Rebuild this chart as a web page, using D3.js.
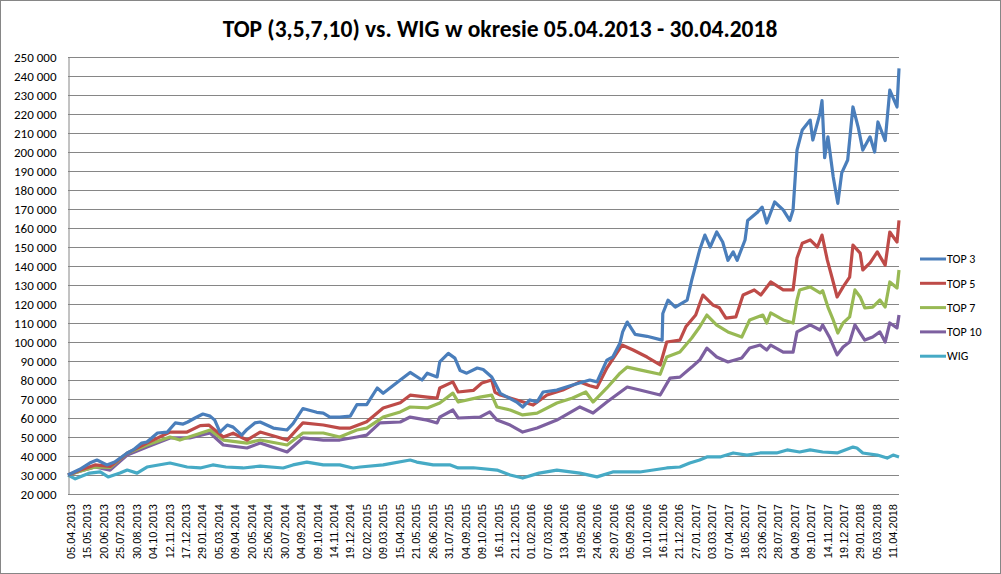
<!DOCTYPE html>
<html>
<head>
<meta charset="utf-8">
<script src="https://cdn.jsdelivr.net/npm/d3@7"></script>
<style>
  body { margin: 0; background: #fff; }
  svg { display: block; }
</style>
</head>
<body>
<div id="chart"></div>
<script>
// chart TOP (3,5,7,10) vs WIG
const width = 1001;
const height = 574;
const totalDays = 1264;

const dateLabels = [
  "05.04.2013","15.05.2013","20.06.2013","25.07.2013","30.08.2013","04.10.2013","12.11.2013","17.12.2013",
  "29.01.2014","05.03.2014","09.04.2014","20.05.2014","25.06.2014","30.07.2014","04.09.2014","09.10.2014","14.11.2014","19.12.2014",
  "02.02.2015","09.03.2015","15.04.2015","21.05.2015","26.06.2015","31.07.2015","04.09.2015","09.10.2015","16.11.2015","21.12.2015",
  "01.02.2016","07.03.2016","13.04.2016","19.05.2016","24.06.2016","29.07.2016","05.09.2016","10.10.2016","16.11.2016","21.12.2016",
  "27.01.2017","03.03.2017","07.04.2017","18.05.2017","23.06.2017","28.07.2017","04.09.2017","09.10.2017","14.11.2017","19.12.2017",
  "29.01.2018","05.03.2018","11.04.2018"
];
const labelStep = 25; // trading days between labels

const yTicks = d3.range(20000, 250001, 10000);

// [trading day, value]
const top3 = [
  [0,30000],[18,33000],[33,36300],[44,37900],[59,35300],[71,36800],[90,41600],[99,43200],[112,46800],
  [120,47400],[136,52100],[151,52600],[163,57400],[175,56800],[182,57900],[193,60000],[205,62100],
  [216,61000],[223,58900],[231,52600],[242,56300],[251,55200],[264,51000],[272,54000],[284,57400],
  [292,57900],[312,54700],[333,53700],[342,57000],[357,65000],[378,63000],[388,62600],[398,60500],
  [413,60500],[429,61000],[439,67000],[454,67000],[470,75800],[479,73000],[505,80000],[520,84000],
  [538,80000],[546,83600],[561,81600],[565,89500],[578,94000],[588,91500],[596,85000],[606,83600],
  [622,86300],[631,85500],[644,81600],[649,78400],[657,73000],[682,68400],[691,65800],[702,69500],
  [713,68500],[722,73700],[743,74700],[767,77400],[793,80000],[804,79000],[819,90500],[828,92100],
  [839,99500],[843,105300],[850,110500],[862,104000],[880,103000],[903,101000],[904,115000],
  [912,122000],[923,118400],[941,122000],[948,132600],[960,148400],[968,156300],[976,150000],[986,157900],
  [995,152600],[1003,143000],[1011,147400],[1017,143000],[1029,153700],[1033,164000],[1047,168000],
  [1055,171000],[1062,162600],[1074,173700],[1087,169500],[1097,164000],[1102,169500],[1108,201000],
  [1116,211600],[1128,216800],[1132,206300],[1143,220500],[1146,227000],[1150,197000],[1155,208000],
  [1163,187000],[1170,173000],[1176,189000],[1185,195800],[1193,223700],[1201,213000],[1208,201000],
  [1219,208000],[1226,200000],[1231,215800],[1242,206000],[1249,232600],[1260,223700],[1263,244000]
];
const top5 = [
  [0,30000],[18,32500],[41,35300],[64,34500],[90,41500],[120,46800],[155,52600],[181,52600],[201,56000],
  [214,56300],[236,50000],[251,52000],[272,48400],[292,52600],[318,50000],[333,48400],[357,57400],
  [388,56300],[413,54700],[429,54700],[454,58000],[479,65300],[505,68000],[520,72000],[546,71000],
  [561,70500],[565,75800],[585,79000],[593,73700],[616,74500],[629,78400],[644,80000],[649,73500],
  [657,72100],[682,69500],[707,66800],[728,72100],[752,74700],[778,79000],[793,77000],[804,76000],
  [819,86300],[834,94200],[842,98400],[859,95800],[880,92100],[900,87900],[910,100000],[930,101000],
  [939,108000],[954,114200],[962,122000],[965,124700],[980,119500],[990,118000],[1000,112600],
  [1015,113200],[1026,124700],[1043,127400],[1053,124700],[1068,131600],[1087,127400],[1102,127400],
  [1108,144200],[1116,152000],[1128,153700],[1139,150000],[1146,156300],[1154,143200],[1161,134200],
  [1169,123700],[1178,129000],[1188,134200],[1193,151000],[1204,146800],[1208,137900],[1219,141600],
  [1230,147400],[1242,140500],[1249,157900],[1260,152600],[1263,164000]
];
const top7 = [
  [0,30000],[18,32000],[41,34200],[64,34000],[90,41500],[120,45800],[155,50000],[170,48400],[216,53700],
  [236,48400],[272,46800],[292,48400],[333,45800],[357,52100],[388,52100],[413,50000],[439,53700],
  [454,54700],[479,60500],[505,63200],[520,65800],[546,65300],[565,67900],[585,73100],[593,68400],
  [626,71000],[644,72000],[652,65800],[672,64200],[691,61600],[713,62600],[743,67900],[767,70500],
  [787,73700],[798,68400],[819,75800],[839,83600],[850,86800],[869,85300],[900,83000],[910,92100],
  [930,94700],[948,102100],[960,107900],[971,114200],[986,108900],[1003,105300],
  [1024,102600],[1036,111600],[1056,114200],[1062,110000],[1068,115300],[1087,111600],[1102,110000],
  [1108,122100],[1112,127400],[1128,129000],[1143,125800],[1147,127000],[1155,118400],[1163,111600],
  [1170,104700],[1178,110000],[1188,113200],[1196,127400],[1204,123700],[1211,117900],[1223,118400],
  [1234,122100],[1242,118400],[1249,131600],[1260,128400],[1263,137900]
];
const top10 = [
  [0,30000],[18,32000],[41,34200],[64,32600],[90,40500],[120,44700],[155,49500],[185,49500],[216,52100],
  [236,45800],[272,44200],[292,46800],[333,42100],[357,49500],[388,48400],[413,48400],[439,50000],
  [454,51000],[474,57400],[505,57900],[520,60500],[546,58900],[561,57400],[565,60500],[585,64200],
  [593,60000],[626,60500],[641,63200],[652,58900],[672,56300],[691,52600],[713,54700],[743,58900],
  [778,65800],[798,62600],[819,68400],[850,76300],[869,74700],[900,72100],[915,81000],[930,81500],
  [948,86800],[960,90500],[971,96800],[986,92100],
  [1003,89500],[1024,91600],[1036,96800],[1052,98400],[1062,95800],[1068,98400],[1087,94700],
  [1102,94700],[1108,105300],[1128,109000],[1143,106300],[1147,109000],[1158,102100],[1169,93200],
  [1178,97400],[1188,100000],[1196,109000],[1204,104700],[1211,101000],[1223,102600],[1234,105300],
  [1242,100000],[1249,110000],[1260,107400],[1263,114200]
];
const wig = [
  [0,30000],[11,28000],[33,31000],[49,31600],[61,29000],[79,31000],[90,32600],[105,31000],[120,34200],
  [155,36300],[181,34200],[201,33700],[220,35300],[240,34200],[266,33700],[292,34700],[327,33700],
  [342,35300],[363,36800],[388,35300],[413,35300],[433,33700],[444,34200],[479,35300],[520,37900],
  [530,36800],[555,35300],[565,35300],[581,35300],[593,33700],[616,33800],[652,32600],[672,30000],
  [691,28400],[716,31000],[743,32600],[778,31000],[804,29000],[828,31600],[869,31600],[910,33700],
  [930,34200],[945,36300],[960,37900],[971,39500],[991,39500],[1011,41600],[1032,40500],[1052,41600],
  [1077,41600],[1093,43200],[1112,42100],[1128,43200],[1147,42100],[1169,41600],[1193,44700],
  [1199,44200],[1208,41600],[1230,40500],[1245,38900],[1254,40500],[1263,39500]
];

const seriesNames = ["TOP 3", "TOP 5", "TOP 7", "TOP 10", "WIG"];
const seriesData = [top3, top5, top7, top10, wig];
const seriesColors = ["#4a7ebb", "#be4b48", "#98b954", "#7d60a0", "#46aac5"];

const plot = { left: 68, right: 899, top: 57, bottom: 494 };

const svg = d3.select("#chart")
    .append("svg")
    .attr("width", width)
    .attr("height", height);

svg.append("rect")
    .attr("x", 0.5).attr("y", 0.5)
    .attr("width", width - 1).attr("height", height - 1)
    .attr("fill", "#fff")
    .attr("stroke", "#868686");

const x = d3.scaleLinear().domain([0, totalDays - 1]).range([plot.left, plot.right]);
const y = d3.scaleLinear().domain([20000, 250000]).range([plot.bottom, plot.top]);

const fmt = v => d3.format(",")(v).replace(/,/g, " ");

// gridlines
svg.append("g")
    .selectAll("line")
    .data(yTicks)
    .enter()
    .append("line")
    .attr("x1", plot.left)
    .attr("x2", plot.right)
    .attr("y1", d => Math.round(y(d)) + 0.5)
    .attr("y2", d => Math.round(y(d)) + 0.5)
    .attr("stroke", "#868686")
    .attr("stroke-width", 1);

// y axis
const yAxis = svg.append("g")
    .attr("transform", `translate(${plot.left + 0.5},0)`)
    .call(d3.axisLeft(y).tickValues(yTicks).tickFormat(fmt).tickSize(0).tickPadding(12));
yAxis.select(".domain").attr("stroke", "#868686");
yAxis.selectAll("text")
    .attr("font-family", "Carlito, Lato, 'Open Sans', sans-serif")
    .attr("font-size", 13)
    .attr("fill", "#000");

// x axis line
svg.append("line")
    .attr("x1", plot.left).attr("x2", plot.right)
    .attr("y1", plot.bottom + 0.5).attr("y2", plot.bottom + 0.5)
    .attr("stroke", "#868686");

// x labels
svg.append("g")
    .selectAll("text")
    .data(dateLabels)
    .enter()
    .append("text")
    .attr("transform", (d, i) => `translate(${x(i * labelStep) + 3},${plot.bottom + 10}) rotate(-90)`)
    .attr("text-anchor", "end")
    .attr("dy", "0.35em")
    .attr("font-family", "'Liberation Sans', Arial, sans-serif")
    .attr("font-size", 11)
    .attr("fill", "#000")
    .text(d => d);

// lines
const line = d3.line()
    .x(d => x(d[0]))
    .y(d => y(d[1]));

svg.append("g")
    .selectAll("path")
    .data(seriesData.slice().reverse())
    .enter()
    .append("path")
    .attr("d", line)
    .attr("fill", "none")
    .attr("stroke", (d, i) => seriesColors[seriesData.length - 1 - i])
    .attr("stroke-width", 3.2)
    .attr("stroke-linejoin", "round");

// title
svg.append("text")
    .attr("x", 500)
    .attr("y", 37)
    .attr("text-anchor", "middle")
    .attr("font-family", "Carlito, Lato, 'Open Sans', sans-serif")
    .attr("font-weight", "bold")
    .attr("font-size", 23.5)
    .attr("fill", "#000")
    .text("TOP (3,5,7,10) vs. WIG w okresie 05.04.2013  - 30.04.2018");

// legend
const legend = svg.append("g")
    .selectAll("g")
    .data(seriesNames)
    .enter()
    .append("g")
    .attr("transform", (d, i) => `translate(920,${259 + i * 24.3})`);

legend.append("line")
    .attr("x1", 0).attr("x2", 26)
    .attr("stroke", (d, i) => seriesColors[i])
    .attr("stroke-width", 3);

legend.append("text")
    .attr("x", 27)
    .attr("dy", "0.35em")
    .attr("font-family", "Carlito, Lato, 'Open Sans', sans-serif")
    .attr("font-size", 12)
    .attr("fill", "#000")
    .text(d => d);
</script>
</body>
</html>
